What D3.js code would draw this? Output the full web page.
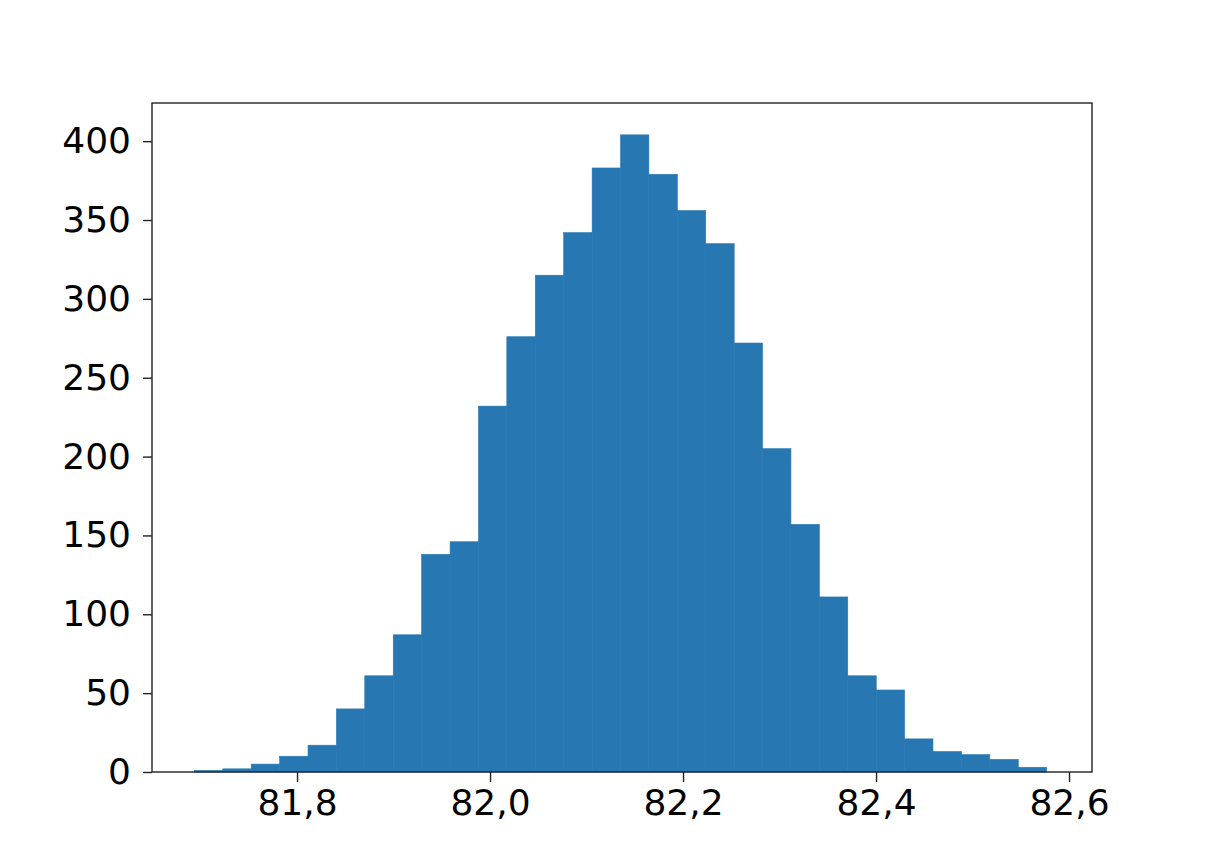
<!DOCTYPE html>
<html>
<head>
<meta charset="utf-8">
<script src="https://cdn.jsdelivr.net/npm/d3@7"></script>
<style>
  body { margin: 0; background: #fff; }
  svg { display: block; }
  .tick text { font-family: "DejaVu Sans", sans-serif; font-size: 36px; fill: #000; }
</style>
</head>
<body>
<svg width="1210" height="864"></svg>
<script>
// histogram bin edges (31 edges -> 30 bins)
const binEdges = [
  81.6936, 81.7230, 81.7525, 81.7819, 81.8114, 81.8408, 81.8702, 81.8997,
  81.9291, 81.9586, 81.9880, 82.0174, 82.0469, 82.0763, 82.1058, 82.1352,
  82.1646, 82.1941, 82.2235, 82.2530, 82.2824, 82.3118, 82.3413, 82.3707,
  82.4002, 82.4296, 82.4590, 82.4885, 82.5179, 82.5474, 82.5768
];
// counts per bin
const binCounts = [
  1, 2, 5, 10, 17, 40, 61, 87, 138, 146,
  232, 276, 315, 342, 383, 404, 379, 356, 335, 272,
  205, 157, 111, 61, 52, 21, 13, 11, 8, 3
];
const xTicks = [81.8, 82.0, 82.2, 82.4, 82.6];
const yTicks = [0, 50, 100, 150, 200, 250, 300, 350, 400];

const svg = d3.select("svg");
const plot = {left: 152, right: 1092, top: 103, bottom: 772};

const bins = binCounts.map((c, i) => ({x0: binEdges[i], x1: binEdges[i + 1], count: c}));

const x = d3.scaleLinear()
  .domain([81.6497, 82.6238])
  .range([plot.left, plot.right]);

const y = d3.scaleLinear()
  .domain([0, 424.2])
  .range([plot.bottom, plot.top]);

const commaLocale = d3.formatLocale({decimal: ",", thousands: ".", grouping: [3], currency: ["", ""]});

// bars
svg.append("g")
  .selectAll("rect")
  .data(bins)
  .join("rect")
  .attr("x", d => x(d.x0))
  .attr("y", d => y(d.count))
  .attr("width", d => x(d.x1) - x(d.x0))
  .attr("height", d => y(0) - y(d.count))
  .attr("fill", "#2777b2")
  .attr("stroke", "#2777b2")
  .attr("stroke-width", 0.6);

// x axis
const xAxis = svg.append("g")
  .attr("transform", `translate(0, ${plot.bottom})`)
  .call(d3.axisBottom(x).tickValues(xTicks).tickFormat(commaLocale.format(".1f")).tickSize(10).tickPadding(7));
xAxis.select(".domain").remove();
xAxis.selectAll(".tick line").attr("stroke", "#222").attr("stroke-width", 1.4);

// y axis
const yAxis = svg.append("g")
  .attr("transform", `translate(${plot.left}, 0)`)
  .call(d3.axisLeft(y).tickValues(yTicks).tickSize(9).tickPadding(12));
yAxis.select(".domain").remove();
yAxis.selectAll(".tick line").attr("stroke", "#222").attr("stroke-width", 1.4);

// frame
svg.append("rect")
  .attr("x", plot.left)
  .attr("y", plot.top)
  .attr("width", plot.right - plot.left)
  .attr("height", plot.bottom - plot.top)
  .attr("fill", "none")
  .attr("stroke", "#222")
  .attr("stroke-width", 1.4);
</script>
</body>
</html>
